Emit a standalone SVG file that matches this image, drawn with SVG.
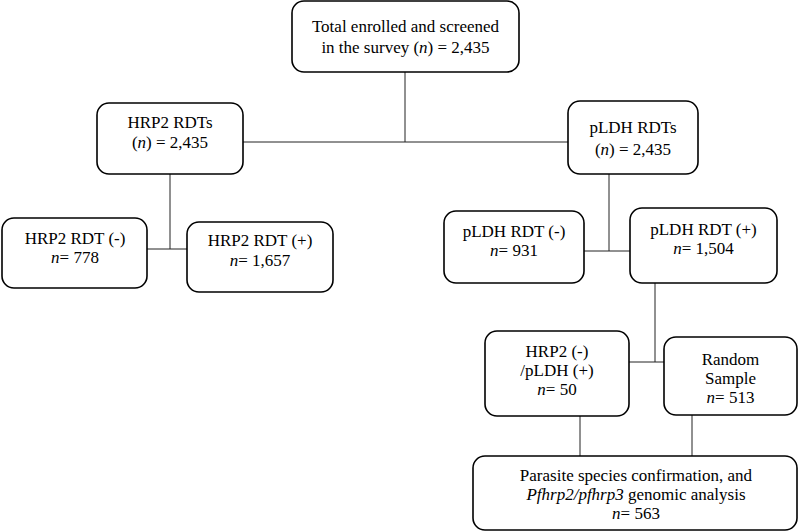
<svg xmlns="http://www.w3.org/2000/svg" width="799" height="531" viewBox="0 0 799 531">
<style>
.box{fill:#fff;stroke:#000;stroke-width:1.6}
.t{font-family:"Liberation Serif","Times New Roman",serif;font-size:17px;fill:#000;text-anchor:middle}
.i{font-style:italic}
.c{stroke:#222;stroke-width:1;fill:none}
</style>
<rect width="799" height="531" fill="#fff"/>
<g id="connectors">
<path class="c" d="M405 72V142M243 142H568"/>
<path class="c" d="M170 174V249M147 249H187"/>
<path class="c" d="M609 174V251M584 251H630"/>
<path class="c" d="M655 283V362M629 362H664"/>
<path class="c" d="M580 416V456M692 415V456"/>
</g>
<g id="total">
<rect class="box" x="292" y="1" width="227" height="71" rx="12"/>
<text class="t" x="405.5" y="32">Total enrolled and screened</text>
<text class="t" x="405.5" y="53">in the survey (<tspan class="i">n</tspan>) = 2,435</text>
</g>
<g id="hrp2-rdts">
<rect class="box" x="97" y="103" width="146" height="71" rx="12"/>
<text class="t" x="170" y="128">HRP2 RDTs</text>
<text class="t" x="170" y="148">(<tspan class="i">n</tspan>) = 2,435</text>
</g>
<g id="pldh-rdts">
<rect class="box" x="568" y="101" width="130" height="73" rx="12"/>
<text class="t" x="633" y="133">pLDH RDTs</text>
<text class="t" x="633" y="155">(<tspan class="i">n</tspan>) = 2,435</text>
</g>
<g id="hrp2-neg">
<rect class="box" x="2" y="218" width="145" height="70" rx="12"/>
<text class="t" x="75" y="244">HRP2 RDT (-)</text>
<text class="t" x="75" y="263"><tspan class="i">n</tspan>= 778</text>
</g>
<g id="hrp2-pos">
<rect class="box" x="187" y="222" width="146" height="70" rx="12"/>
<text class="t" x="260" y="246">HRP2 RDT (+)</text>
<text class="t" x="260" y="266"><tspan class="i">n</tspan>= 1,657</text>
</g>
<g id="pldh-neg">
<rect class="box" x="444" y="211" width="140" height="72" rx="12"/>
<text class="t" x="514" y="237">pLDH RDT (-)</text>
<text class="t" x="514" y="256"><tspan class="i">n</tspan>= 931</text>
</g>
<g id="pldh-pos">
<rect class="box" x="630" y="208" width="147" height="75" rx="12"/>
<text class="t" x="703.5" y="235">pLDH RDT (+)</text>
<text class="t" x="703.5" y="254"><tspan class="i">n</tspan>= 1,504</text>
</g>
<g id="hrp2neg-pldhpos">
<rect class="box" x="485" y="331" width="144" height="85" rx="12"/>
<text class="t" x="557" y="357">HRP2 (-)</text>
<text class="t" x="557" y="376">/pLDH (+)</text>
<text class="t" x="557" y="395"><tspan class="i">n</tspan>= 50</text>
</g>
<g id="random">
<rect class="box" x="664" y="337" width="133" height="78" rx="12"/>
<text class="t" x="730.5" y="365">Random</text>
<text class="t" x="730.5" y="384">Sample</text>
<text class="t" x="730.5" y="403"><tspan class="i">n</tspan>= 513</text>
</g>
<g id="analysis">
<rect class="box" x="473" y="456" width="324" height="74" rx="12"/>
<text class="t" x="636" y="481">Parasite species confirmation, and</text>
<text class="t" x="636" y="500"><tspan class="i">Pfhrp2/pfhrp3</tspan> genomic analysis</text>
<text class="t" x="636" y="519"><tspan class="i">n</tspan>= 563</text>
</g>
</svg>
